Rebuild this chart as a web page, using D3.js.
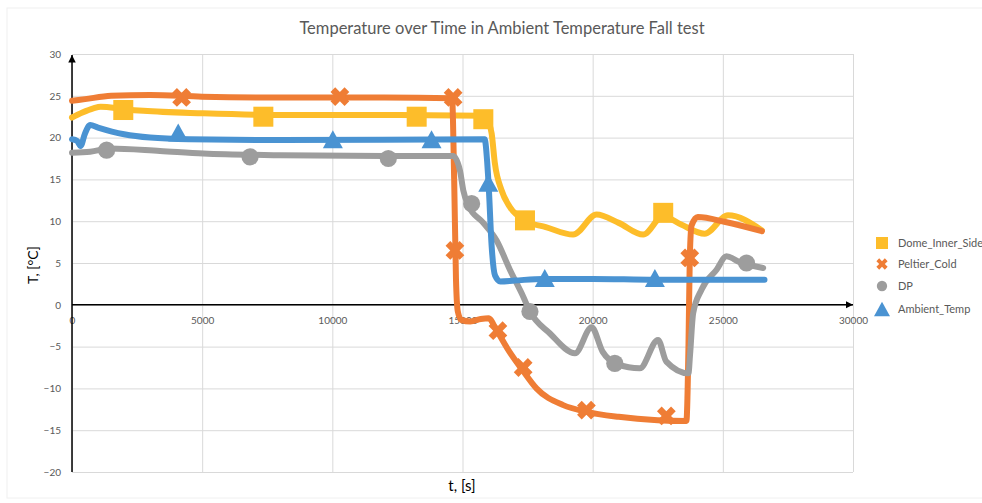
<!DOCTYPE html>
<meta charset="utf-8">
<head>
<script src="https://d3js.org/d3.v7.min.js"></script>
<style>
  body { margin: 0; background: #fff; }
  text { font-family: Lato, "Open Sans", sans-serif; }
</style>
</head>
<body>
<svg id="chart" width="982" height="503"></svg>
<script>
// ---- data: [t in s, T in °C] ----
var domePts = [[0,22.4],[400,23.0],[820,23.5],[1100,23.7],[2000,23.4],[2740,23.2],[5040,22.9],[8000,22.7],
  [12000,22.7],[15800,22.6],[16000,21.8],[16120,20.5],[16240,17.0],[16500,13.7],[16820,11.7],[17460,10.0],
  [18200,9.3],[19250,8.4],[20150,10.8],[21000,9.8],[21940,8.4],[22700,10.6],[23400,9.6],[24300,8.5],
  [25200,10.7],[26500,8.9]];
var domeMarks = [[1970,23.3],[7350,22.5],[13240,22.5],[15800,22.2],[17400,10.1],[22710,11.0]];

var peltierPts = [[0,24.4],[500,24.6],[1500,25.0],[3000,25.1],[5000,24.9],[8000,24.8],[12000,24.8],
  [14600,24.7],[14680,15.0],[14750,3.0],[14820,-0.8],[14950,-1.8],[15300,-2.0],[15700,-1.7],[16000,-1.6],
  [16300,-3.0],[16800,-5.6],[17300,-7.8],[17840,-10.0],[18870,-12.0],[19760,-12.8],[21000,-13.4],
  [22500,-13.8],[23600,-13.9],[23680,-5.0],[23730,5.5],[23800,9.5],[24040,10.5],[25100,9.9],[26500,8.8]];
var peltierMarks = [[4210,24.8],[10290,24.9],[14640,24.8],[14710,6.5],[16360,-3.1],[17330,-7.5],
  [19760,-12.6],[22830,-13.3],[23730,5.6]];

var dpPts = [[0,18.2],[700,18.3],[1460,18.7],[3380,18.4],[5040,18.1],[8000,17.9],[12000,17.8],[14640,17.8],
  [14900,16.1],[15030,13.7],[15220,11.9],[15800,9.8],[16310,7.7],[16820,4.2],[17330,1.0],[17590,-0.8],
  [18350,-3.4],[19320,-5.8],[19960,-2.7],[20380,-5.6],[20950,-7.1],[21810,-7.6],[22510,-4.2],[22830,-6.8],
  [23680,-8.2],[23740,-6.0],[23860,-1.0],[24180,1.8],[24760,4.2],[25140,5.8],[25650,5.1],[26550,4.4]];
var dpMarks = [[1330,18.5],[6840,17.7],[12150,17.5],[15350,12.1],[17590,-0.8],[20850,-7.0],[25910,5.0]];

var ambientPts = [[0,19.8],[200,19.6],[330,19.0],[500,20.5],[700,21.5],[1000,21.2],[2000,20.4],[3000,20.0],
  [4500,19.8],[8000,19.7],[15850,19.8],[15950,17.0],[16000,14.6],[16120,7.0],[16250,3.5],[16450,2.8],
  [17000,2.9],[18100,3.1],[20000,3.1],[22400,3.0],[26600,3.0]];
var ambientMarks = [[4080,20.6],[10020,19.8],[13810,19.8],[15990,14.6],[18160,3.2],[22390,3.2]];

var xTicks = [0, 5000, 10000, 15000, 20000, 25000, 30000];
var yTicks = [-20, -15, -10, -5, 0, 5, 10, 15, 20, 25, 30];
var seriesNames = ["Dome_Inner_Side", "Peltier_Cold", "DP", "Ambient_Temp"];
var seriesColors = ["#FDBD2A", "#EF7D35", "#9D9D9D", "#4A93D2"];
var seriesShapes = ["square", "cross", "circle", "triangle"];

// ---- layout ----
var svg = d3.select("#chart");
var x = d3.scaleLinear().domain([0, 30000]).range([72, 853]);
var y = d3.scaleLinear().domain([-20, 30]).range([472, 54]);

svg.append("rect").attr("x", 7).attr("y", 8).attr("width", 980).attr("height", 490)
  .attr("fill", "#fff").attr("stroke", "#f0f0f0");

// grid
svg.append("g").attr("transform", "translate(72,0)")
  .call(d3.axisLeft(y).tickValues(yTicks).tickSize(-781).tickFormat(""))
  .call(function (g) { g.select(".domain").remove(); g.selectAll("line").attr("stroke", "#d9d9d9"); });
svg.append("g").attr("transform", "translate(0,472)")
  .call(d3.axisBottom(x).tickValues(xTicks).tickSize(-418).tickFormat(""))
  .call(function (g) { g.select(".domain").remove(); g.selectAll("line").attr("stroke", "#d9d9d9"); });

// tick labels
svg.append("g").attr("transform", "translate(72,0)")
  .call(d3.axisLeft(y).tickValues(yTicks).tickSize(0).tickPadding(11))
  .call(function (g) {
    g.select(".domain").remove();
    g.selectAll("text").attr("fill", "#595959").style("font-size", "10px");
  });
svg.append("g").attr("transform", "translate(0," + y(0) + ")")
  .call(d3.axisBottom(x).tickValues(xTicks).tickSize(0).tickFormat(d3.format("d")))
  .call(function (g) {
    g.select(".domain").remove();
    g.selectAll("text").attr("y", 12).attr("fill", "#595959").style("font-size", "10px");
  });

// black axes with arrows
svg.append("defs").append("marker").attr("id", "arrow")
  .attr("viewBox", "0 0 10 10").attr("refX", 10).attr("refY", 5)
  .attr("markerWidth", 5).attr("markerHeight", 5).attr("orient", "auto")
  .append("path").attr("d", "M0,0L10,5L0,10Z").attr("fill", "#000");
svg.append("line").attr("x1", x(0)).attr("x2", x(0)).attr("y1", y(-20)).attr("y2", y(30) + 1)
  .attr("stroke", "#000").attr("stroke-width", 1.5).attr("marker-end", "url(#arrow)");
svg.append("line").attr("x1", x(0)).attr("x2", x(30000)).attr("y1", y(0)).attr("y2", y(0))
  .attr("stroke", "#000").attr("stroke-width", 1.5).attr("marker-end", "url(#arrow)");

// titles
svg.append("text").attr("x", 502).attr("y", 34).attr("text-anchor", "middle")
  .attr("fill", "#595959").style("font-size", "16.5px")
  .text("Temperature over Time in Ambient Temperature Fall test");
svg.append("text").attr("x", 462).attr("y", 491).attr("text-anchor", "middle")
  .style("font-size", "15px").text("t, [s]");
svg.append("text").attr("transform", "translate(38,265) rotate(-90)").attr("text-anchor", "middle")
  .style("font-size", "14px").text("T, [°C]");

// marker shapes
function drawMarker(g, shape, color, cx, cy, s) {
  if (shape === "square") {
    g.append("rect").attr("x", cx - s / 2).attr("y", cy - s / 2).attr("width", s).attr("height", s).attr("fill", color);
  } else if (shape === "circle") {
    g.append("circle").attr("cx", cx).attr("cy", cy).attr("r", s * 0.43).attr("fill", color);
  } else if (shape === "cross") {
    g.append("path").attr("d", d3.symbol(d3.symbolCross, s * s * 0.55)())
      .attr("transform", "translate(" + cx + "," + cy + ") rotate(45)").attr("fill", color);
  } else {
    var h = s * 0.9, w = s;
    g.append("path").attr("d", "M" + cx + "," + (cy - h / 2) + "L" + (cx + w / 2) + "," + (cy + h / 2) +
      "L" + (cx - w / 2) + "," + (cy + h / 2) + "Z").attr("fill", color);
  }
}

var line = d3.line().x(function (d) { return x(d[0]); }).y(function (d) { return y(d[1]); })
  .curve(d3.curveMonotoneX);

var allPts = [domePts, peltierPts, dpPts, ambientPts];
var allMarks = [domeMarks, peltierMarks, dpMarks, ambientMarks];

allPts.forEach(function (pts, i) {
  var g = svg.append("g");
  g.append("path").attr("d", line(pts)).attr("fill", "none").attr("stroke", seriesColors[i])
    .attr("stroke-width", 6).attr("stroke-linejoin", "round").attr("stroke-linecap", "round");
  allMarks[i].forEach(function (m) {
    drawMarker(g, seriesShapes[i], seriesColors[i], x(m[0]), y(m[1]), 20);
  });
});

// legend
var legendY = [243, 264, 286, 309];
seriesNames.forEach(function (name, i) {
  var g = svg.append("g");
  drawMarker(g, seriesShapes[i], seriesColors[i], 882, legendY[i], i === 3 ? 16 : 12);
  g.append("text").attr("x", 898).attr("y", legendY[i] + 4).attr("fill", "#595959")
    .style("font-size", "11px").text(name);
});
</script>
</body>
</html>
